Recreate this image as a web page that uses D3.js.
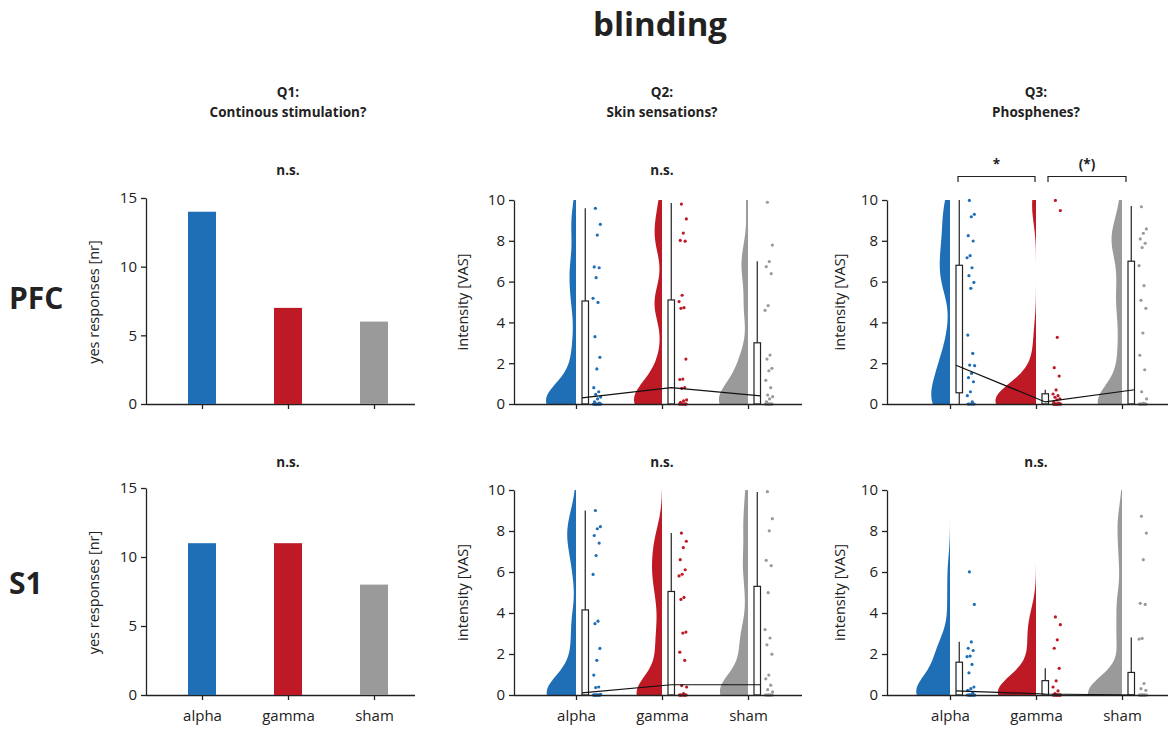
<!DOCTYPE html>
<html>
<head>
<meta charset="utf-8">
<script src="https://cdn.jsdelivr.net/npm/d3@7"></script>
<style>
  html, body { margin: 0; padding: 0; background: #fff; }
  text { font-family: "Open Sans", "Noto Sans", sans-serif; fill: #222; }
</style>
</head>
<body>
<script>
// ---- data ----------------------------------------------------------------
const groups = ["alpha", "gamma", "sham"];
const groupColors = ["#1f6fb6", "#bd1a25", "#9a9a9a"];

const questions = ["Q1:", "Q2:", "Q3:"];
const questionTexts = ["Continous stimulation?", "Skin sensations?", "Phosphenes?"];
const sites = ["PFC", "S1"];

const barTicks = [0, 5, 10, 15];
const vasTicks = [0, 2, 4, 6, 8, 10];

// Q1: number of "yes" responses
const yesPFC = [14, 7, 6];
const yesS1 = [11, 11, 8];

// Q2 / Q3: individual VAS ratings per group (many participants rated 0)
const q2PfcAlpha = [9.59, 8.81, 8.28, 6.72, 6.68, 6.19, 5.18, 4.98, 3.30, 2.29, 1.72, 0.80, 0.60, 0.47, 0.34, 0.25, 0.11, 0.05, 0, 0, 0, 0, 0, 0, 0, 0, 0, 0];
const q2PfcGamma = [9.80, 9.07, 8.38, 8.02, 7.98, 5.33, 5.02, 4.72, 4.69, 2.20, 1.22, 1.20, 0.80, 0.77, 0.20, 0.15, 0.08, 0, 0, 0, 0, 0, 0, 0, 0, 0];
const q2PfcSham  = [9.89, 7.79, 6.98, 6.73, 6.39, 4.82, 4.59, 2.40, 2.20, 1.75, 1.63, 1.16, 0.80, 0.44, 0.36, 0.25, 0.11, 0, 0, 0, 0, 0, 0, 0, 0, 0, 0];

const q3PfcAlpha = [9.98, 9.30, 9.18, 8.25, 7.99, 7.27, 7.17, 6.68, 6.29, 5.96, 5.67, 3.38, 2.48, 1.91, 1.88, 1.50, 1.29, 1.09, 0.60, 0.41, 0.11, 0, 0, 0, 0, 0];
const q3PfcGamma = [9.98, 9.48, 3.27, 1.78, 1.37, 0.69, 0.49, 0.41, 0.33, 0.25, 0.20, 0.11, 0.05, 0, 0, 0, 0, 0, 0, 0, 0, 0, 0, 0, 0];
const q3PfcSham  = [9.67, 8.58, 8.37, 8.09, 7.88, 7.67, 6.78, 5.80, 5.08, 4.69, 3.48, 2.39, 1.68, 0.60, 0.25, 0.03, 0, 0, 0, 0, 0, 0, 0, 0, 0];

const q2S1Alpha = [9.00, 8.21, 8.11, 7.78, 7.41, 6.80, 5.88, 3.60, 3.48, 2.27, 1.69, 0.97, 0.39, 0.36, 0.03, 0, 0, 0, 0, 0, 0, 0, 0, 0, 0, 0, 0];
const q2S1Gamma = [7.90, 7.50, 7.19, 6.60, 6.11, 5.89, 5.81, 4.76, 4.66, 3.07, 3.02, 2.09, 1.69, 0.46, 0.39, 0.07, 0, 0, 0, 0, 0, 0, 0, 0, 0, 0];
const q2S1Sham  = [9.92, 8.60, 8.01, 6.57, 6.31, 4.99, 3.19, 2.78, 2.45, 1.99, 0.97, 0.79, 0.48, 0.26, 0.15, 0, 0, 0, 0, 0, 0, 0, 0, 0];

const q3S1Alpha = [6.01, 4.42, 2.59, 2.28, 2.17, 1.90, 1.87, 1.49, 1.08, 0.39, 0.31, 0.23, 0.10, 0, 0, 0, 0, 0, 0, 0, 0, 0, 0, 0];
const q3S1Gamma = [3.81, 3.43, 2.69, 2.28, 1.30, 0.69, 0.39, 0.20, 0.07, 0, 0, 0, 0, 0, 0, 0, 0, 0, 0, 0];
const q3S1Sham  = [8.72, 7.90, 6.60, 4.47, 4.42, 2.76, 2.73, 0.56, 0.31, 0.23, 0, 0, 0, 0, 0, 0, 0, 0, 0, 0, 0, 0];

// box summaries per group: lower whisker, q1, median, q3, upper whisker
const q2PfcBox = { lo: [0, 0, 0], q1: [0, 0, 0], med: [0.30, 0.80, 0.40], q3: [5.05, 5.10, 3.00], hi: [9.60, 9.85, 7.00] };
const q3PfcBox = { lo: [0, 0, 0], q1: [0.55, 0, 0], med: [1.90, 0.10, 0.70], q3: [6.80, 0.50, 7.00], hi: [10.0, 0.70, 9.70] };
const q2S1Box  = { lo: [0, 0, 0], q1: [0, 0, 0], med: [0.10, 0.50, 0.50], q3: [4.15, 5.05, 5.30], hi: [9.00, 7.90, 9.90] };
const q3S1Box  = { lo: [0, 0, 0], q1: [0, 0, 0], med: [0.20, 0.05, 0.00], q3: [1.60, 0.70, 1.10], hi: [2.60, 1.30, 2.80] };

// significance labels above each panel, [row][column]
const sigLabels = [["n.s.", "n.s.", null], ["n.s.", "n.s.", "n.s."]];
// pairwise comparisons in Q3 / PFC
const q3PfcPairs = [{ a: 0, b: 1, label: "*" }, { a: 1, b: 2, label: "(*)" }];

// ---- layout --------------------------------------------------------------
const W = 1173, H = 729;
const rowBox = [{ top: 200, bottom: 404 }, { top: 490, bottom: 695 }];
const colBox = [
  { axisX: 146, first: 202, last: 374, end: 415, titleOff: 47 },
  { axisX: 514, first: 576, last: 748, end: 802, titleOff: 46 },
  { axisX: 887, first: 950, last: 1122, end: 1168, titleOff: 42 }
];
const ink = "#222";

const svg = d3.select("body").append("svg").attr("width", W).attr("height", H);

// title
svg.append("text").attr("x", 660).attr("y", 36).attr("text-anchor", "middle")
  .style("font-size", "33px").style("font-weight", 700).text("blinding");

// column headers
questions.forEach((q, i) => {
  const cx = (colBox[i].first + colBox[i].last) / 2;
  svg.append("text").attr("x", cx).attr("y", 97).attr("text-anchor", "middle")
    .style("font-size", "13.5px").style("font-weight", 700).text(q);
  svg.append("text").attr("x", cx).attr("y", 117).attr("text-anchor", "middle")
    .style("font-size", "13.5px").style("font-weight", 700).text(questionTexts[i]);
});

// row labels
const rowLabelBase = [309, 594];
sites.forEach((s, r) => {
  svg.append("text").attr("x", 9).attr("y", rowLabelBase[r]).attr("text-anchor", "start")
    .style("font-size", "30px").style("font-weight", 700).text(s);
});

function makeX(c) {
  return d3.scalePoint().domain(groups).range([colBox[c].first, colBox[c].last]);
}

function drawAxes(g, c, r, y, ticks, label, showCats) {
  const x = makeX(c);
  const cb = colBox[c], rb = rowBox[r];
  // y axis
  const ya = g.append("g").attr("transform", `translate(${cb.axisX},0)`)
    .call(d3.axisLeft(y).tickValues(ticks).tickSize(5).tickSizeOuter(0).tickPadding(4));
  // x axis
  const xa = g.append("g").attr("transform", `translate(0,${rb.bottom})`)
    .call(d3.axisBottom(x).tickSize(5).tickSizeOuter(0).tickPadding(10));
  xa.select(".domain").attr("d", `M${cb.axisX},0.5H${cb.end}`);
  if (!showCats) xa.selectAll(".tick text").remove();
  [ya, xa].forEach(a => {
    a.selectAll(".domain, .tick line").attr("stroke", ink).attr("stroke-width", 1.3);
    a.selectAll(".tick text").style("font-size", "15px").attr("fill", ink)
      .style("font-family", '"Open Sans", sans-serif');
  });
  // axis title
  g.append("text")
    .attr("transform", `translate(${cb.axisX - cb.titleOff},${(rb.top + rb.bottom) / 2}) rotate(-90)`)
    .attr("text-anchor", "middle").style("font-size", "14.5px").text(label);
  return x;
}

// ---- Q1 bar panels -------------------------------------------------------
[yesPFC, yesS1].forEach((vals, r) => {
  const g = svg.append("g");
  const y = d3.scaleLinear().domain([0, 15]).range([rowBox[r].bottom, rowBox[r].top - 2]);
  const x = drawAxes(g, 0, r, y, barTicks, "yes responses [nr]", r === 1);
  const bw = 28;
  g.selectAll("rect.bar").data(vals).join("rect").attr("class", "bar")
    .attr("x", (d, i) => x(groups[i]) - bw / 2)
    .attr("width", bw)
    .attr("y", d => y(d))
    .attr("height", d => y(0) - y(d))
    .attr("fill", (d, i) => groupColors[i]);
});

// ---- raincloud panels ----------------------------------------------------
function kde(sample, h, grid) {
  const n = sample.length;
  const c = 1 / (n * h * Math.sqrt(2 * Math.PI));
  return grid.map(v => {
    let s = 0;
    for (const xi of sample) { const u = (v - xi) / h; s += Math.exp(-0.5 * u * u); }
    return [v, s * c];
  });
}

const grid = d3.range(0, 10.0001, 0.05);
const densityScale = 108;   // px per unit of density
const bandwidth = 0.85;

function rainPanel(c, r, samples, box) {
  const g = svg.append("g");
  const y = d3.scaleLinear().domain([0, 10]).range([rowBox[r].bottom, rowBox[r].top]);
  const x = makeX(c);

  // half violins to the left of each category position
  samples.forEach((s, i) => {
    const cx = x(groups[i]);
    const dens = kde(s, bandwidth, grid);
    const area = d3.area()
      .x0(d => cx - d[1] * densityScale)
      .x1(() => cx)
      .y(d => y(d[0]))
      .curve(d3.curveBasis);
    g.append("path").attr("d", area(dens)).attr("fill", groupColors[i]);
  });

  // boxes and whiskers
  const bx0 = 6, bx1 = 12.5, bmid = 9.25;
  groups.forEach((gr, i) => {
    const cx = x(gr);
    g.append("line").attr("x1", cx + bmid).attr("x2", cx + bmid)
      .attr("y1", y(box.q3[i])).attr("y2", y(box.hi[i]))
      .attr("stroke", ink).attr("stroke-width", 1.2);
    if (box.q1[i] > box.lo[i]) {
      g.append("line").attr("x1", cx + bmid).attr("x2", cx + bmid)
        .attr("y1", y(box.lo[i])).attr("y2", y(box.q1[i]))
        .attr("stroke", ink).attr("stroke-width", 1.2);
    }
    g.append("rect").attr("x", cx + bx0).attr("width", bx1 - bx0)
      .attr("y", y(box.q3[i])).attr("height", y(box.q1[i]) - y(box.q3[i]))
      .attr("fill", "#fff").attr("stroke", ink).attr("stroke-width", 1.2);
  });

  // individual ratings, spread sideways by a fixed pattern
  samples.forEach((s, i) => {
    const cx = x(groups[i]);
    g.selectAll(null).data(s).join("circle")
      .attr("cx", (d, k) => cx + 17 + 8 * ((k * 0.618034 + 0.3) % 1))
      .attr("cy", d => y(d))
      .attr("r", 1.6)
      .attr("fill", groupColors[i]);
  });

  drawAxes(g, c, r, y, vasTicks, "intensity [VAS]", r === 1);

  // medians joined across groups
  const medPts = groups.map((gr, i) => [x(gr) + (i === 0 ? bx0 : i === 2 ? bx1 : bmid), y(box.med[i])]);
  g.append("path").attr("d", d3.line()(medPts)).attr("fill", "none")
    .attr("stroke", "#111").attr("stroke-width", 1.2);
  return { x, y };
}

rainPanel(1, 0, [q2PfcAlpha, q2PfcGamma, q2PfcSham], q2PfcBox);
const p3 = rainPanel(2, 0, [q3PfcAlpha, q3PfcGamma, q3PfcSham], q3PfcBox);
rainPanel(1, 1, [q2S1Alpha, q2S1Gamma, q2S1Sham], q2S1Box);
rainPanel(2, 1, [q3S1Alpha, q3S1Gamma, q3S1Sham], q3S1Box);

// significance labels
sigLabels.forEach((row, r) => row.forEach((lab, c) => {
  if (!lab) return;
  const cx = (colBox[c].first + colBox[c].last) / 2;
  svg.append("text").attr("x", cx).attr("y", r === 0 ? 175 : 467).attr("text-anchor", "middle")
    .style("font-size", "13.5px").style("font-weight", 700).text(lab);
}));

// brackets for pairwise comparisons
q3PfcPairs.forEach(p => {
  const xa = p3.x(groups[p.a]) + 8, xb = p3.x(groups[p.b]) + (p.b === 2 ? 4 : -1);
  const xl = p.a === 1 ? p3.x(groups[1]) + 12 : xa;
  svg.append("path").attr("d", `M${xl},182V176.5H${xb}V182`)
    .attr("fill", "none").attr("stroke", ink).attr("stroke-width", 1.2);
  svg.append("text").attr("x", (xl + xb) / 2).attr("y", 169).attr("text-anchor", "middle")
    .style("font-size", "13.5px").style("font-weight", 700).text(p.label);
});
</script>
</body>
</html>
